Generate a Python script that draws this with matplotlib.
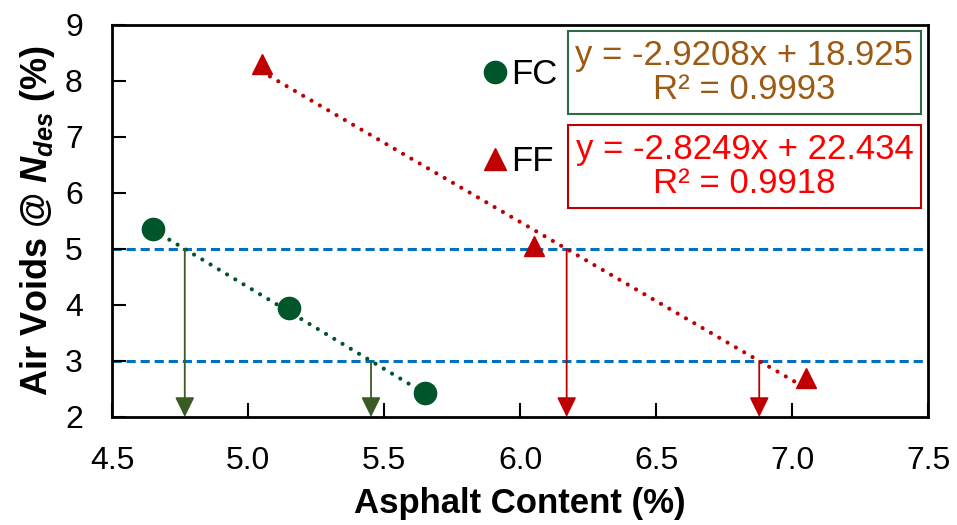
import numpy as np
import matplotlib
matplotlib.use('Agg')
from matplotlib import pyplot as plt
from matplotlib.lines import Line2D

# Schrift wie im Original (Arial -> Liberation Sans)
plt.rcParams['font.family'] = ['Liberation Sans', 'DejaVu Sans']
plt.rcParams['mathtext.fontset'] = 'custom'
plt.rcParams['mathtext.it'] = 'Liberation Sans:italic:bold'
plt.rcParams['mathtext.rm'] = 'Liberation Sans:bold'

# Daten
fc_x = [4.65, 5.15, 5.65]
fc_y = [5.35, 3.95, 2.43]
ff_x = [5.05, 6.05, 7.05]
ff_y = [8.30, 5.05, 2.70]

# Trendlinien (Steigung, Achsenabschnitt) und Bestimmtheitsmass
fc_fit = [-2.9208, 18.925]
ff_fit = [-2.8249, 22.434]
fc_r2 = 0.9993
ff_r2 = 0.9918

# Grenzwerte Hohlraumgehalt
grenzen = [5, 3]

gruen = '#00552B'
rot = '#C00000'
pfeil_gruen = '#3A5A26'
blau = '#0070C0'

fig = plt.figure(figsize=(9.57, 5.25), dpi=100)
ax = fig.add_axes([112 / 957, 108 / 525, 816 / 957, 392 / 525])

# Grenzlinien
for g in grenzen:
    ax.axhline(g, color=blau, lw=2.2, linestyle=(0, (3, 1.6)), zorder=1)

# Trendlinien gepunktet
xf = np.array([fc_x[0], fc_x[-1]])
ax.plot(xf, fc_fit[0] * xf + fc_fit[1], color=gruen, lw=3.0,
        linestyle=(0, (0.01, 2.3)), dash_capstyle='round', zorder=2)
xr = np.array([ff_x[0], ff_x[-1]])
ax.plot(xr, ff_fit[0] * xr + ff_fit[1], color=rot, lw=3.0,
        linestyle=(0, (0.01, 2.3)), dash_capstyle='round', zorder=2)

# Pfeile zu den Schnittpunkten
for fit, farbe in [(fc_fit, pfeil_gruen), (ff_fit, rot)]:
    for g in grenzen:
        xs = (g - fit[1]) / fit[0]
        ax.annotate('', xy=(xs, 2.0), xytext=(xs, g),
                    arrowprops=dict(arrowstyle='-|>,head_length=0.55,head_width=0.27',
                                    mutation_scale=22, color=farbe, lw=1.3,
                                    shrinkA=0, shrinkB=0), zorder=3)

# Messpunkte
ax.plot(fc_x, fc_y, 'o', color=gruen, markersize=16, zorder=4)
ax.plot(ff_x, ff_y, '^', color=rot, markersize=15, zorder=4)

# Achsen
ax.set_xlim(4.5, 7.5)
ax.set_ylim(2, 9)
ax.set_xticks(np.arange(4.5, 7.51, 0.5))
ax.set_xticklabels([f'{v:.1f}' for v in np.arange(4.5, 7.51, 0.5)])
ax.set_yticks(np.arange(2, 10, 1))
ax.tick_params(direction='in', length=10, width=1.5, labelsize=23)
ax.tick_params(axis='x', pad=21)
ax.tick_params(axis='y', pad=21)
for s in ax.spines.values():
    s.set_linewidth(2)

ax.set_xlabel('Asphalt Content (%)', fontsize=25, fontweight='bold', labelpad=8)
ax.set_ylabel(r'Air Voids @ $\mathit{N}_{\mathit{des}}$ (%)', fontsize=26,
              fontweight='bold', labelpad=6)

# Legende
handles = [Line2D([], [], marker='o', color=gruen, linestyle='none', markersize=16),
           Line2D([], [], marker='^', color=rot, linestyle='none', markersize=16)]
ax.legend(handles, ['FC', 'FF'], loc='upper left', bbox_to_anchor=(0.44, 0.95),
          frameon=False, fontsize=25, handlelength=0.6, handletextpad=0.15,
          labelspacing=1.55, borderaxespad=0)

# Gleichungen
ax.text(0.775, 0.879, f'y = {fc_fit[0]:.4f}x + {fc_fit[1]:.3f}\nR² = {fc_r2:.4f}',
        transform=ax.transAxes, ha='center', va='center', multialignment='center',
        fontsize=25, color='#9C5A12', linespacing=1.05,
        bbox=dict(boxstyle='square,pad=0.22', fc='white', ec='#2E6B45', lw=1.5))
ax.text(0.775, 0.639, f'y = {ff_fit[0]:.4f}x + {ff_fit[1]:.3f}\nR² = {ff_r2:.4f}',
        transform=ax.transAxes, ha='center', va='center', multialignment='center',
        fontsize=25, color='#FF0000', linespacing=1.05,
        bbox=dict(boxstyle='square,pad=0.22', fc='white', ec=rot, lw=1.5))

fig.savefig('out.png', dpi=100)
